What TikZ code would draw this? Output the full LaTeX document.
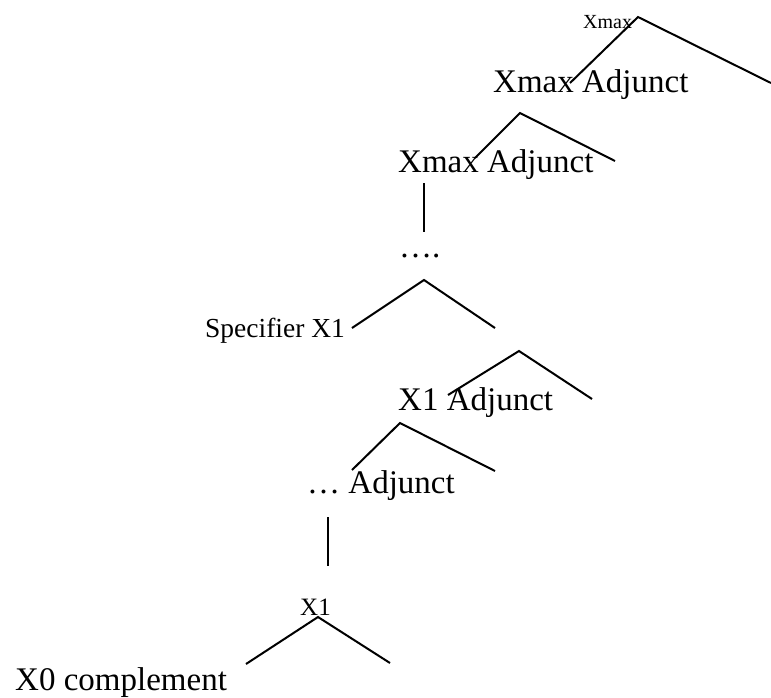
\documentclass[tikz,border=0pt]{standalone}
\usepackage{fontspec}
\setmainfont{Liberation Serif}
\begin{document}
\begin{tikzpicture}[x=1pt,y=-1pt,
  branch/.style={line width=2pt, line cap=butt},
  lbl/.style={inner sep=0pt, anchor=base west},
  big/.style={lbl, font=\fontsize{33}{40}\selectfont},
  mid/.style={lbl, font=\fontsize{27.5}{33}\selectfont},
  small/.style={lbl, font=\fontsize{25}{30}\selectfont},
  tiny/.style={lbl, font=\fontsize{20}{24}\selectfont}]
\useasboundingbox (0,0) rectangle (771,697);

% labels
\node[tiny]  (xmaxtop) at (583,28)  {Xmax};
\node[big]   (xadjA)   at (493,92)  {Xmax Adjunct};
\node[big]   (xadjB)   at (398,172) {Xmax Adjunct};
\node[big]   (dots)    at (399,257) {….};
\node[mid]   (spec)    at (205,337) {Specifier X1};
\node[big]   (xoneadj) at (398,410) {X1 Adjunct};
\node[big]   (dotsadj) at (307,493) {… Adjunct};
\node[small] (xonebot) at (300,615) {X1};
\node[big]   (xzero)   at (15,690)  {X0 complement};

% branch points
\coordinate (aT) at (638,17);  \coordinate (aL) at (570,83);  \coordinate (aR) at (771,83);
\coordinate (bT) at (520,113); \coordinate (bL) at (475,158); \coordinate (bR) at (615,161);
\coordinate (vT) at (424,183); \coordinate (vB) at (424,232);
\coordinate (cT) at (424,280); \coordinate (cL) at (352,328); \coordinate (cR) at (495,328);
\coordinate (dT) at (519,351); \coordinate (dL) at (448,395); \coordinate (dR) at (592,399);
\coordinate (eT) at (400,423); \coordinate (eL) at (352,470); \coordinate (eR) at (495,471);
\coordinate (wT) at (328,517); \coordinate (wB) at (328,566);
\coordinate (fT) at (318,617); \coordinate (fL) at (246,664); \coordinate (fR) at (390,663);

% branches
\draw[branch] (aL) -- (aT) -- (aR);
\draw[branch] (bL) -- (bT) -- (bR);
\draw[branch] (vT) -- (vB);
\draw[branch] (cL) -- (cT) -- (cR);
\draw[branch] (dL) -- (dT) -- (dR);
\draw[branch] (eL) -- (eT) -- (eR);
\draw[branch] (wT) -- (wB);
\draw[branch] (fL) -- (fT) -- (fR);
\end{tikzpicture}
\end{document}
